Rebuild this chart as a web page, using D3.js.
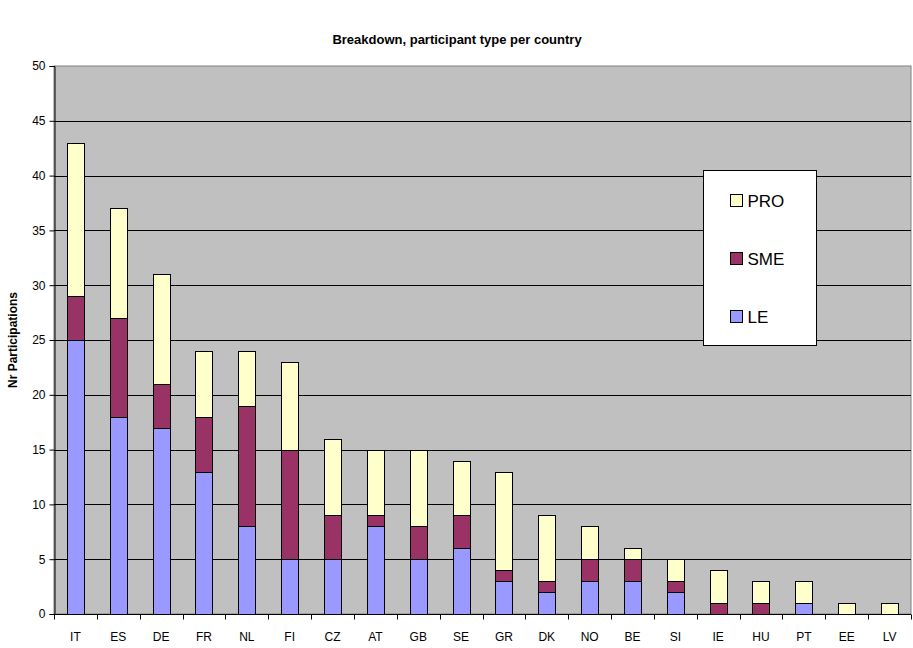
<!DOCTYPE html>
<html>
<head>
<meta charset="utf-8">
<script src="https://cdn.jsdelivr.net/npm/d3@7"></script>
<style>
  body { margin: 0; background: #fff; }
  text { font-family: Arial, "Liberation Sans", sans-serif; }
</style>
</head>
<body>
<script>
var width = 913,
    height = 648;

// chart data
var countries = ["IT","ES","DE","FR","NL","FI","CZ","AT","GB","SE","GR","DK","NO","BE","SI","IE","HU","PT","EE","LV"];
var le  = [25,18,17,13, 8, 5,5,8,5,6,3,2,3,3,2,0,0,1,0,0];
var sme = [ 4, 9, 4, 5,11,10,4,1,3,3,1,1,2,2,1,1,1,0,0,0];
var pro = [14,10,10, 6, 5, 8,7,6,7,5,9,6,3,1,2,3,2,2,1,1];
var seriesNames = ["LE","SME","PRO"];
var seriesColors = {LE: "#9999ff", SME: "#993366", PRO: "#ffffcc"};
var yTicks = [0,5,10,15,20,25,30,35,40,45,50];

var margin = {top: 66, right: 2, bottom: 34, left: 54},
    plotW = width - margin.left - margin.right,
    plotH = height - margin.top - margin.bottom;

var rows = countries.map(function(c, i) {
  return {country: c, LE: le[i], SME: sme[i], PRO: pro[i]};
});

var svg = d3.select("body").append("svg")
    .attr("width", width)
    .attr("height", height);

svg.append("text")
    .attr("x", 457)
    .attr("y", 44)
    .attr("text-anchor", "middle")
    .style("font-size", "13px")
    .style("font-weight", "bold")
    .text("Breakdown, participant type per country");

var g = svg.append("g")
    .attr("transform", "translate(" + margin.left + "," + margin.top + ")");

var x = d3.scaleBand()
    .domain(countries)
    .range([0, plotW])
    .paddingInner(0.6)
    .paddingOuter(0.3);

var y = d3.scaleLinear()
    .domain([0, 50])
    .range([plotH, 0]);

// plot background
g.append("rect")
    .attr("width", plotW)
    .attr("height", plotH)
    .attr("fill", "#c0c0c0")
    .attr("stroke", "#808080")
    .attr("stroke-width", 1);

// gridlines
g.selectAll("line.grid")
    .data(yTicks.filter(function(d) { return d > 0 && d < 50; }))
    .enter().append("line")
    .attr("class", "grid")
    .attr("x1", 0)
    .attr("x2", plotW)
    .attr("y1", function(d) { return Math.round(y(d)) + 0.5; })
    .attr("y2", function(d) { return Math.round(y(d)) + 0.5; })
    .attr("stroke", "#000")
    .attr("stroke-width", 1);

// stacked bars
var stack = d3.stack().keys(seriesNames)(rows);

g.selectAll("g.layer")
    .data(stack)
    .enter().append("g")
    .attr("class", "layer")
    .attr("fill", function(d) { return seriesColors[d.key]; })
  .selectAll("rect")
    .data(function(d) { return d.filter(function(p) { return p[1] > p[0]; }); })
    .enter().append("rect")
    .attr("x", function(d) { return Math.round(x(d.data.country)) + 0.5; })
    .attr("y", function(d) { return Math.round(y(d[1])) + 0.5; })
    .attr("width", Math.round(x.bandwidth()))
    .attr("height", function(d) { return Math.round(y(d[0])) - Math.round(y(d[1])); })
    .attr("stroke", "#000")
    .attr("stroke-width", 1);

// y axis
var yAxis = g.append("g")
    .attr("transform", "translate(0.5,0)")
    .call(d3.axisLeft(y).tickValues(yTicks).tickSize(5).tickPadding(4));
yAxis.selectAll("text").style("font-size", "12px").attr("fill", "#000");

// x axis with ticks between categories
var xAxis = g.append("g")
    .attr("transform", "translate(0," + (plotH + 0.5) + ")");
xAxis.append("line")
    .attr("x1", 0).attr("x2", plotW)
    .attr("stroke", "#000");
xAxis.selectAll("line.tick")
    .data(d3.range(countries.length + 1))
    .enter().append("line")
    .attr("class", "tick")
    .attr("x1", function(i) { return Math.round(i * plotW / countries.length) + 0.5; })
    .attr("x2", function(i) { return Math.round(i * plotW / countries.length) + 0.5; })
    .attr("y1", 0).attr("y2", 5)
    .attr("stroke", "#000");
xAxis.selectAll("text")
    .data(countries)
    .enter().append("text")
    .attr("x", function(d) { return x(d) + x.bandwidth() / 2; })
    .attr("y", 26)
    .attr("text-anchor", "middle")
    .style("font-size", "12px")
    .text(function(d) { return d; });

// y axis title
svg.append("text")
    .attr("transform", "translate(17," + (margin.top + plotH / 2) + ") rotate(-90)")
    .attr("text-anchor", "middle")
    .style("font-size", "12px")
    .style("font-weight", "bold")
    .text("Nr Participations");

// legend
var legend = svg.append("g")
    .attr("transform", "translate(703.5,170.5)");
legend.append("rect")
    .attr("width", 113)
    .attr("height", 175)
    .attr("fill", "#fff")
    .attr("stroke", "#000");

var items = legend.selectAll("g.item")
    .data(seriesNames.slice().reverse())
    .enter().append("g")
    .attr("class", "item")
    .attr("transform", function(d, i) { return "translate(27," + (30 + i * 58) + ")"; });
items.append("rect")
    .attr("x", 0).attr("y", -6)
    .attr("width", 12).attr("height", 12)
    .attr("fill", function(d) { return seriesColors[d]; })
    .attr("stroke", "#000");
items.append("text")
    .attr("x", 17)
    .attr("y", 6)
    .style("font-size", "17px")
    .text(function(d) { return d; });
</script>
</body>
</html>
